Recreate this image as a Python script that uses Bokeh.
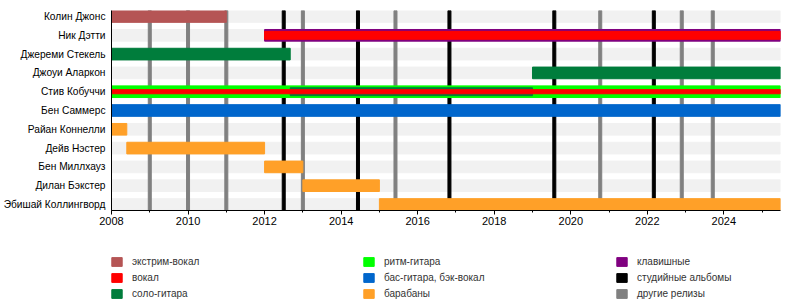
from bokeh.plotting import figure
from bokeh.layouts import column
from bokeh.models import Range1d, FixedTicker, SingleIntervalTicker, Legend, LegendItem
from bokeh.embed import file_html
from bokeh.resources import INLINE

members = ["Колин Джонс", "Ник Дэтти", "Джереми Стекель", "Джоуи Аларкон",
           "Стив Кобуччи", "Бен Саммерс", "Райан Коннелли", "Дейв Нэстер",
           "Бен Миллхауз", "Дилан Бэкстер", "Эбишай Коллингворд"]

roles = ["экстрим-вокал", "вокал", "соло-гитара", "ритм-гитара",
         "бас-гитара, бэк-вокал", "барабаны", "клавишные"]
role_colors = ["#b55555", "#ff0000", "#007d3c", "#00ff00",
               "#0066cc", "#ffa028", "#800080"]

START = 2008.0
END = 2025.48

bar_member = ["Колин Джонс", "Ник Дэтти", "Ник Дэтти", "Джереми Стекель",
              "Джоуи Аларкон", "Стив Кобуччи", "Стив Кобуччи", "Стив Кобуччи",
              "Бен Саммерс", "Райан Коннелли", "Дейв Нэстер", "Бен Миллхауз",
              "Дилан Бэкстер", "Эбишай Коллингворд"]
bar_role = ["экстрим-вокал", "клавишные", "вокал", "соло-гитара",
            "соло-гитара", "ритм-гитара", "соло-гитара", "вокал",
            "бас-гитара, бэк-вокал", "барабаны", "барабаны", "барабаны",
            "барабаны", "барабаны"]
bar_start = [2008.0, 2012.0, 2012.0, 2008.0,
             2019.0, 2008.0, 2012.67, 2008.0,
             2008.0, 2008.0, 2008.4, 2012.0,
             2013.0, 2015.0]
bar_end = [2011.0, END, END, 2012.67,
           END, END, 2019.0, END,
           END, 2008.4, 2012.0, 2013.0,
           2015.0, END]

release_labels = ["студийные альбомы", "другие релизы"]
release_colors = ["#000000", "#808080"]
studio_albums = [2012.5, 2014.44, 2016.83, 2019.57, 2022.17]
other_releases = [2009.0, 2010.0, 2011.0, 2013.0, 2015.42, 2020.77, 2022.9, 2023.71]

n = len(members)
PAD = 0.32
BAR_H = 0.62
layer_heights = [0.62, 0.42, 0.22]
FONT = "Liberation Sans"

# ---------------- main timeline ----------------
p = figure(width=800, height=230, output_backend="svg", toolbar_location=None,
           x_range=Range1d(START, END), y_range=Range1d(n - 1 + PAD, -PAD),
           min_border_left=110, min_border_right=20, min_border_top=10,
           min_border_bottom=20)
p.outline_line_color = None
p.xgrid.visible = False
p.ygrid.visible = False
p.background_fill_color = "white"

rows = list(range(n))
p.hbar(y=rows, left=START, right=END, height=BAR_H, color="#f1f1f1")

mid = (n - 1) / 2
full_h = n - 1 + 2 * PAD
for xs, col in zip([studio_albums, other_releases], release_colors):
    p.rect(x=xs, y=[mid] * len(xs), width=3, width_units="screen",
           height=full_h, color=col)

order = {}
layer_of = []
for m, r in zip(bar_member, bar_role):
    lst = order.setdefault(m, [])
    if r not in lst:
        lst.append(r)
    layer_of.append(lst.index(r))

for L in range(max(layer_of) + 1):
    for role, col in zip(roles, role_colors):
        idx = [i for i in range(len(bar_member)) if layer_of[i] == L and bar_role[i] == role]
        if not idx:
            continue
        p.hbar(y=[members.index(bar_member[i]) for i in idx],
               left=[bar_start[i] for i in idx],
               right=[bar_end[i] for i in idx],
               height=layer_heights[L], color=col)

xa = p.xaxis[0]
xa.ticker = SingleIntervalTicker(interval=2, num_minor_ticks=2)
xa.major_tick_out = 4
xa.major_tick_in = 0
xa.minor_tick_out = 2
xa.minor_tick_in = 0
xa.major_label_standoff = 2
xa.major_label_text_font = FONT
xa.major_label_text_font_size = "11px"
xa.major_label_text_color = "#000000"
xa.axis_line_color = "#000000"

ya = p.yaxis[0]
ya.ticker = FixedTicker(ticks=rows)
ya.major_label_overrides = {i: m for i, m in enumerate(members)}
ya.major_tick_line_color = None
ya.major_tick_out = 0
ya.major_tick_in = 0
ya.minor_tick_line_color = None
ya.minor_tick_out = 0
ya.minor_tick_in = 0
ya.major_label_standoff = 6
ya.major_label_text_font = FONT
ya.major_label_text_font_size = "10.2px"
ya.major_label_text_color = "#000000"
ya.axis_line_color = "#000000"

# ---------------- legend strip ----------------
q = figure(width=800, height=75, output_backend="svg", toolbar_location=None,
           x_range=Range1d(0, 670), y_range=Range1d(0, 75),
           min_border_left=110, min_border_right=20,
           min_border_top=0, min_border_bottom=0)
q.axis.visible = False
q.xgrid.visible = False
q.ygrid.visible = False
q.outline_line_color = None

all_labels = roles + release_labels
all_colors = role_colors + release_colors
swatches = [q.hbar(y=[-100], left=[0], right=[1], height=1, color=c) for c in all_colors]

cols_x = [-1, 251, 504]
for c in range(3):
    items = [LegendItem(label=all_labels[k], renderers=[swatches[k]])
             for k in range(c * 3, c * 3 + 3)]
    leg = Legend(items=items, location=(cols_x[c], 6), orientation="vertical",
                 glyph_width=13, glyph_height=11, label_height=11, label_standoff=9,
                 spacing=5, padding=0, margin=0, border_line_alpha=0,
                 background_fill_alpha=0, label_text_font=FONT,
                 label_text_font_size="10px", label_text_color="#333333")
    q.add_layout(leg, "center")

layout = column(p, q, spacing=0)
open("out.html", "w").write(file_html(layout, INLINE))
